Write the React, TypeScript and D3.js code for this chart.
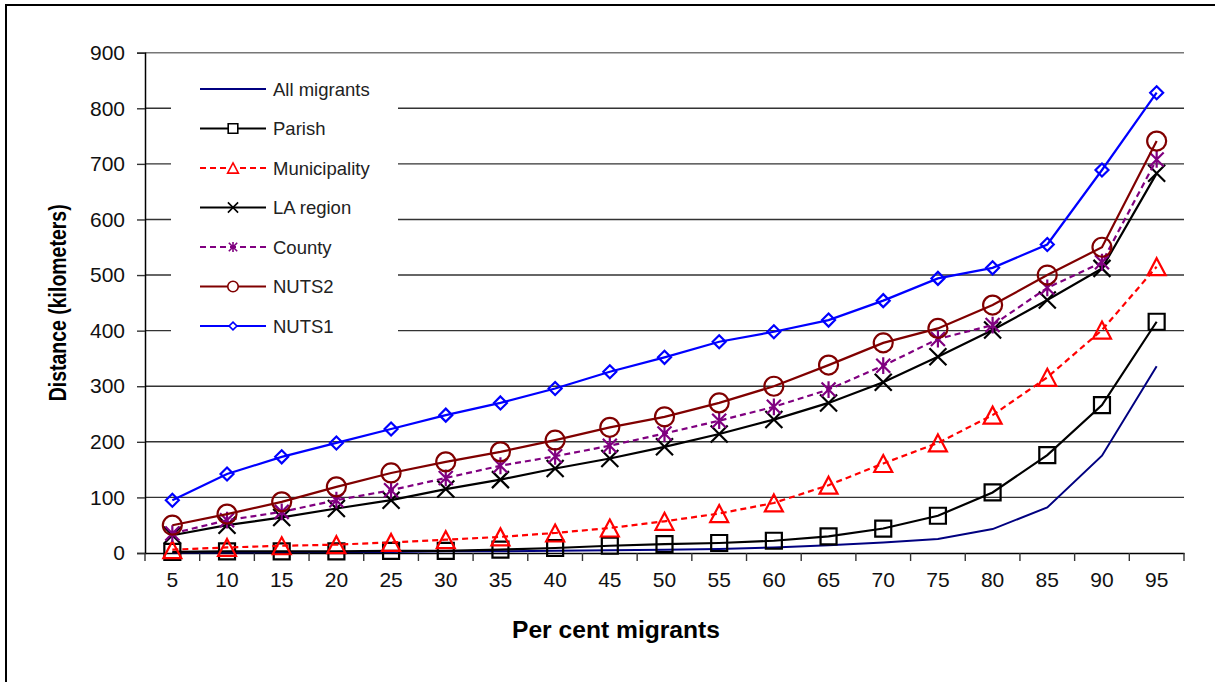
import React, { useEffect, useRef } from "react";
import * as d3 from "d3";

// per cent of migrants (category axis)
const percents = ["5", "10", "15", "20", "25", "30", "35", "40", "45", "50", "55", "60", "65", "70", "75", "80", "85", "90", "95"];

// distances in km
const allMigrants = [1, 1, 2, 2, 2, 3, 3, 4, 5, 6, 7, 10, 14, 19, 25, 43, 82, 175, 336];
const parish = [2, 3, 3, 3, 4, 4, 6, 9, 13, 16, 18, 22, 30, 44, 67, 109, 176, 266, 416];
const municipality = [6, 10, 13, 15, 19, 24, 29, 36, 45, 57, 71, 90, 122, 161, 198, 248, 316, 401, 515];
const laRegion = [32, 50, 64, 80, 95, 115, 132, 152, 170, 191, 214, 240, 270, 307, 353, 401, 455, 512, 683];
const county = [35, 59, 74, 95, 113, 135, 157, 174, 193, 215, 238, 263, 294, 337, 385, 410, 477, 523, 708];
const nuts2 = [50, 70, 92, 119, 144, 164, 182, 203, 226, 245, 270, 300, 338, 378, 404, 446, 500, 550, 741];
const nuts1 = [95, 142, 173, 198, 223, 248, 270, 296, 326, 352, 380, 398, 419, 454, 494, 513, 555, 689, 828];

const yTicks = [0, 100, 200, 300, 400, 500, 600, 700, 800, 900];

const series = [
  { name: "All migrants", values: allMigrants, color: "#000080", dash: null, marker: "none" },
  { name: "Parish", values: parish, color: "#000000", dash: null, marker: "square" },
  { name: "Municipality", values: municipality, color: "#ff0000", dash: "6,4", marker: "triangle" },
  { name: "LA region", values: laRegion, color: "#000000", dash: null, marker: "x" },
  { name: "County", values: county, color: "#800080", dash: "6,4", marker: "asterisk" },
  { name: "NUTS2", values: nuts2, color: "#800000", dash: null, marker: "circle" },
  { name: "NUTS1", values: nuts1, color: "#0000ff", dash: null, marker: "diamond" },
];

const W = 1215;
const H = 682;
const margin = { left: 145, right: 31, top: 52.7, bottom: 129 };
const tickFont = "'Liberation Sans', Arial, sans-serif";

// marker path centred on (0,0); s = scale factor (1 in plot, smaller in legend)
function markerPath(type: string, s: number) {
  const p = d3.path();
  if (type === "square") {
    const h = 8 * s;
    p.rect(-h, -h, 2 * h, 2 * h);
  } else if (type === "triangle") {
    const w = 9 * s, h = 8.5 * s;
    p.moveTo(0, -h);
    p.lineTo(w, h);
    p.lineTo(-w, h);
    p.closePath();
  } else if (type === "x") {
    const h = 8.5 * s;
    p.moveTo(-h, -h); p.lineTo(h, h);
    p.moveTo(-h, h); p.lineTo(h, -h);
  } else if (type === "asterisk") {
    const h = 7 * s;
    p.moveTo(-h, -h); p.lineTo(h, h);
    p.moveTo(-h, h); p.lineTo(h, -h);
    p.moveTo(0, -h * 1.2); p.lineTo(0, h * 1.2);
  } else if (type === "circle") {
    const r = 9.5 * s;
    p.moveTo(r, 0);
    p.arc(0, 0, r, 0, Math.PI * 2);
  } else if (type === "diamond") {
    const h = 6.5 * s;
    p.moveTo(0, -h); p.lineTo(h, 0); p.lineTo(0, h); p.lineTo(-h, 0); p.closePath();
  }
  return p.toString();
}

function MigrantChart() {
  const ref = useRef<SVGSVGElement>(null);

  useEffect(() => {
    const svg = d3.select(ref.current);
    svg.selectAll("*").remove();

    const x = d3
      .scaleBand()
      .domain(percents)
      .range([margin.left, W - margin.right])
      .padding(0);
    const y = d3
      .scaleLinear()
      .domain([0, 900])
      .range([H - margin.bottom, margin.top]);
    const cx = (c: string) => (x(c) as number) + x.bandwidth() / 2;

    // outer frame (only left and top edges fall inside the picture)
    svg
      .append("path")
      .attr("d", `M6,${H} L6,5 L${W},5`)
      .attr("fill", "none")
      .attr("stroke", "#000")
      .attr("stroke-width", 2);

    // gridlines
    svg
      .append("g")
      .selectAll("line")
      .data(yTicks.filter((t) => t > 0))
      .enter()
      .append("line")
      .attr("x1", margin.left)
      .attr("x2", W - margin.right)
      .attr("y1", (d) => y(d))
      .attr("y2", (d) => y(d))
      .attr("stroke", (d) => (d === 900 ? "#777" : "#333"))
      .attr("stroke-width", 1.4);

    // y axis
    const yAxis = svg
      .append("g")
      .attr("transform", `translate(${margin.left},0)`)
      .call(d3.axisLeft(y).tickValues(yTicks).tickSize(8).tickPadding(12));
    yAxis.select(".domain").attr("stroke", "#000").attr("stroke-width", 1.5);
    yAxis.selectAll(".tick line").attr("stroke", "#333").attr("stroke-width", 1.4);
    yAxis
      .selectAll(".tick text")
      .attr("font-family", tickFont)
      .attr("font-size", 21)
      .attr("fill", "#111");

    // x axis: ticks sit between categories
    const xAxis = svg
      .append("g")
      .attr("transform", `translate(0,${y(0)})`)
      .call(d3.axisBottom(x).tickSize(0).tickPadding(19).tickSizeOuter(0));
    xAxis.select(".domain").attr("stroke", "#000").attr("stroke-width", 1.5);
    xAxis
      .selectAll(".tick text")
      .attr("font-family", tickFont)
      .attr("font-size", 21)
      .attr("fill", "#111");
    xAxis
      .append("g")
      .selectAll("line")
      .data(d3.range(percents.length + 1))
      .enter()
      .append("line")
      .attr("x1", (i) => margin.left + i * x.bandwidth())
      .attr("x2", (i) => margin.left + i * x.bandwidth())
      .attr("y1", 0)
      .attr("y2", 8)
      .attr("stroke", "#333")
      .attr("stroke-width", 1.4);

    // axis titles (condensed bold)
    svg
      .append("text")
      .attr("transform", `translate(66,${(y(0) + y(900)) / 2}) rotate(-90)`)
      .attr("text-anchor", "middle")
      .attr("font-family", tickFont)
      .attr("font-weight", "bold")
      .attr("font-size", 24)
      .attr("textLength", 197)
      .attr("lengthAdjust", "spacingAndGlyphs")
      .text("Distance (kilometers)");
    svg
      .append("text")
      .attr("x", 616)
      .attr("y", 638)
      .attr("text-anchor", "middle")
      .attr("font-family", tickFont)
      .attr("font-weight", "bold")
      .attr("font-size", 24)
      .attr("textLength", 208)
      .attr("lengthAdjust", "spacingAndGlyphs")
      .text("Per cent migrants");

    // legend box (white, hides part of the gridlines)
    const legend = svg.append("g");
    legend
      .append("rect")
      .attr("x", 171)
      .attr("y", 64)
      .attr("width", 227)
      .attr("height", 282)
      .attr("fill", "#fff");

    // series
    const line = d3
      .line<number>()
      .x((d, i) => cx(percents[i]))
      .y((d) => y(d));

    series.forEach((s) => {
      const g = svg.append("g");
      g.append("path")
        .attr("d", line(s.values) as string)
        .attr("fill", "none")
        .attr("stroke", s.color)
        .attr("stroke-width", s.name === "All migrants" ? 2 : 2.2)
        .attr("stroke-dasharray", s.dash);
      if (s.marker !== "none") {
        g.selectAll("path.m")
          .data(s.values)
          .enter()
          .append("path")
          .attr("class", "m")
          .attr("transform", (d, i) => `translate(${cx(percents[i])},${y(d)})`)
          .attr("d", markerPath(s.marker, 1))
          .attr("fill", "none")
          .attr("stroke", s.color)
          .attr("stroke-width", 2.2);
      }
    });

    // legend entries
    const entry = legend
      .selectAll("g.entry")
      .data(series)
      .enter()
      .append("g")
      .attr("class", "entry")
      .attr("transform", (d, i) => `translate(0,${89 + i * 39.5})`);
    entry
      .append("line")
      .attr("x1", 200)
      .attr("x2", 266)
      .attr("stroke", (d) => d.color)
      .attr("stroke-width", 2.2)
      .attr("stroke-dasharray", (d) => d.dash);
    entry
      .filter((d) => d.marker !== "none")
      .append("path")
      .attr("transform", "translate(233,0)")
      .attr("d", (d) => markerPath(d.marker, d.marker === "circle" ? 0.55 : 0.6))
      .attr("fill", "#fff")
      .attr("stroke", (d) => d.color)
      .attr("stroke-width", 1.6);
    entry
      .append("text")
      .attr("x", 273)
      .attr("y", 6.5)
      .attr("font-family", tickFont)
      .attr("font-size", 18.5)
      .attr("fill", "#222")
      .text((d) => d.name);
  }, []);

  return (
    <svg
      ref={ref}
      width={W}
      height={H}
      style={{ position: "absolute", left: 0, top: 0, background: "#fff" }}
    />
  );
}

export default function App() {
  return <MigrantChart />;
}
